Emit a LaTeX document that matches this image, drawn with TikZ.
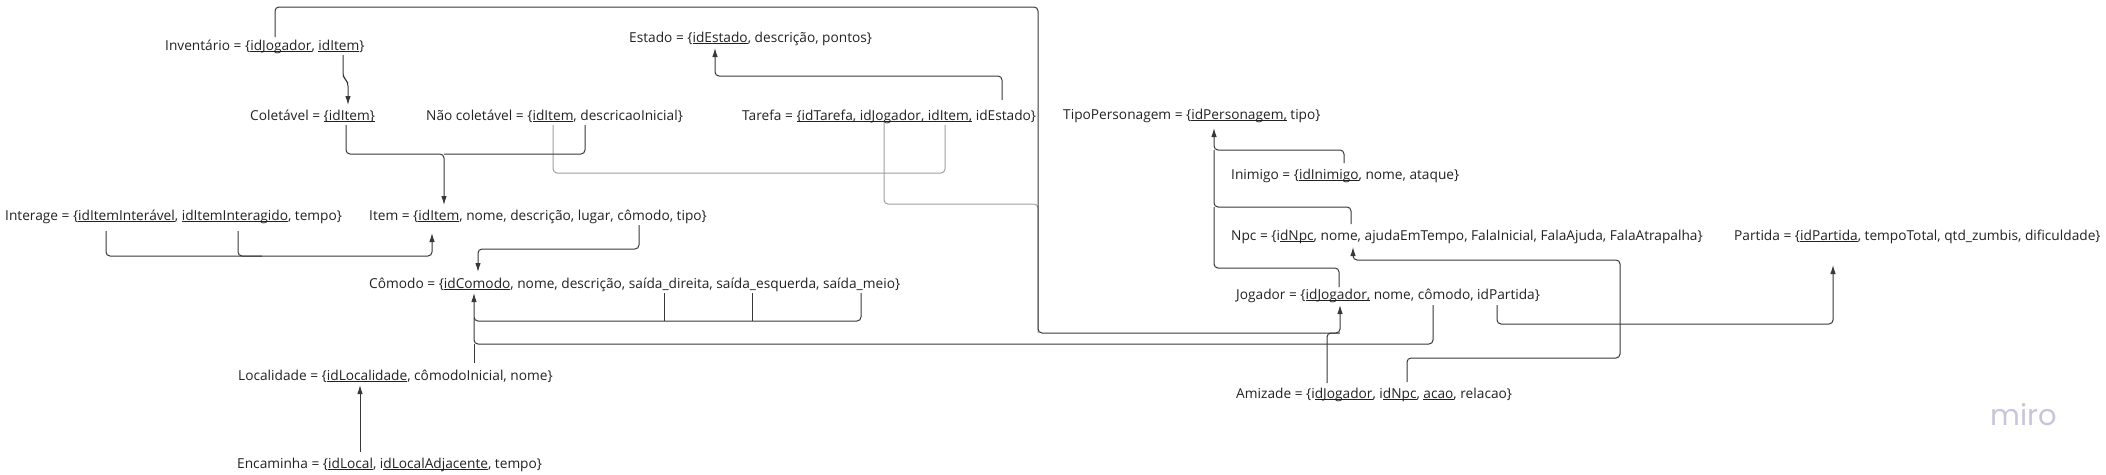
\documentclass[tikz,border=0pt]{standalone}
\usepackage{fontspec}
\setmainfont{Open Sans}
\newfontfamily\logofont{Poppins}
\usetikzlibrary{arrows.meta}
\definecolor{txt}{HTML}{222222}
\definecolor{ln}{HTML}{383838}
\definecolor{lg}{HTML}{A0A0A0}
\definecolor{logoc}{HTML}{C6C6D8}
\newcommand\undl[1]{\setbox0\hbox{#1}\rlap{\rule[-2pt]{\wd0}{0.9pt}}\box0\relax}
\tikzset{
  rel/.style={anchor=base west, inner sep=0pt, text=txt, font=\fontsize{13.7}{16}\selectfont},
  logo/.style={anchor=base west, inner sep=0pt, text=logoc, font=\logofont\fontsize{29}{30}\selectfont},
  conn/.style={draw=ln, line width=1pt, rounded corners=4pt},
  gconn/.style={conn, draw=lg},
  arr/.style={-{Latex[length=9pt,width=5.5pt]}}
}
\begin{document}
\begin{tikzpicture}[x=1pt,y=-1pt]
\useasboundingbox (0,0) rectangle (2106,474);
% relations
\node[rel] (inv) at (165,50) {Inventário = \{\undl{idJogador}, \undl{idItem}\}};
\node[rel] (est) at (629,42) {Estado = \{\undl{idEstado}, descrição, pontos\}};
\node[rel] (col) at (250,120) {Coletável = \undl{\{idItem\}}};
\node[rel] (ncol) at (426,120) {Não coletável = \{\undl{idItem}, descricaoInicial\}};
\node[rel] (tar) at (742,120) {Tarefa = \undl{\{idTarefa, idJogador, idItem,} idEstado\}};
\node[rel] (tipo) at (1063,119) {TipoPersonagem = \{\undl{idPersonagem,} tipo\}};
\node[rel] (ini) at (1231,179) {Inimigo = \{\undl{idInimigo}, nome, ataque\}};
\node[rel] (intg) at (5,220) {Interage = \{\undl{idItemInterável}, \undl{idItemInteragido}, tempo\}};
\node[rel] (item) at (369,220) {Item = \{\undl{idItem}, nome, descrição, lugar, cômodo, tipo\}};
\node[rel] (npc) at (1231,240) {Npc = \{i\undl{dNpc}, nome, ajudaEmTempo, FalaInicial, FalaAjuda, FalaAtrapalha\}};
\node[rel] (part) at (1734,240) {Partida = \{\undl{idPartida}, tempoTotal, qtd\_zumbis, dificuldade\}};
\node[rel] (com) at (369,288) {Cômodo = \{\undl{idComodo}, nome, descrição, saída\_direita, saída\_esquerda, saída\_meio\}};
\node[rel] (jog) at (1236,299) {Jogador = \{\undl{idJogador,} nome, cômodo, idPartida\}};
\node[rel] (loc) at (238,380) {Localidade = \{\undl{idLocalidade}, cômodoInicial, nome\}};
\node[rel] (ami) at (1236,398) {Amizade = \{i\undl{dJogador}, i\undl{dNpc}, \undl{acao}, relacao\}};
\node[rel] (enc) at (237,468) {Encaminha = \{\undl{idLocal}, i\undl{dLocalAdjacente}, tempo\}};
\node[logo] (miro) at (1990,425) {miro};
% attachment points
\coordinate (invJ) at (275,37);
\coordinate (invI) at (343,55);
\coordinate (colIn) at (348,105);
\coordinate (colOut) at (346,125);
\coordinate (ncolI) at (553,125);
\coordinate (ncolD) at (585,125);
\coordinate (itemIn) at (444,205);
\coordinate (itemIn2) at (432,233);
\coordinate (itemT) at (639,225);
\coordinate (estIn) at (715,48);
\coordinate (tarE) at (1002,100);
\coordinate (tarJ) at (884,122);
\coordinate (tarI) at (945,125);
\coordinate (intA) at (106,231);
\coordinate (intB) at (238,231);
\coordinate (comIn) at (478,272);
\coordinate (comK) at (474,293);
\coordinate (sd) at (664,293);
\coordinate (se) at (752,293);
\coordinate (sm) at (861,293);
\coordinate (locC) at (474,363);
\coordinate (locIn) at (360,385);
\coordinate (encL) at (360,452);
\coordinate (tipoIn) at (1214,128);
\coordinate (iniT) at (1344,163);
\coordinate (npcT) at (1351,224);
\coordinate (npcIn) at (1353,247);
\coordinate (jogT) at (1339,287);
\coordinate (jogIn) at (1340,305);
\coordinate (jogC) at (1433,305);
\coordinate (jogP) at (1497,305);
\coordinate (partIn) at (1833,265);
\coordinate (amiJ) at (1327,383);
\coordinate (amiN) at (1407,382);
% gray connectors
\draw[gconn] (ncolI) -- (553,173) -- (945,173) -- (tarI);
\draw[gconn] (tarJ) -- (884,204) -- (1038,204) -- (1038,333);
% dark connectors
\draw[conn,arr] (invJ) -- (275,7) -- (1038,7) -- (1038,333) -- (1340,333) -- (jogIn);
\draw[conn] (amiJ) -- (1327,333) -- (1340,333);
\draw[conn,arr] (tarE) -- (1002,76) -- (715,76) -- (estIn);
\draw[conn,arr] (invI) -- (343,77) -- (348,82) -- (colIn);
\draw[conn,arr] (colOut) -- (346,154) -- (444,154) -- (itemIn);
\draw[conn] (ncolD) -- (585,154) -- (444,154);
\draw[conn,arr] (intA) -- (106,256) -- (432,256) -- (itemIn2);
\draw[conn] (intB) -- (238,256) -- (262,256);
\draw[conn,arr] (itemT) -- (639,249) -- (478,249) -- (comIn);
\draw[conn,arr] (sm) -- (861,321) -- (474,321) -- (comK);
\draw[conn] (sd) -- (664,321);
\draw[conn] (se) -- (752,321);
\draw[conn] (jogC) -- (1433,344) -- (474,344) -- (474,318);
\draw[conn] (locC) -- (474,344);
\draw[conn,arr] (encL) -- (locIn);
\draw[conn,arr] (iniT) -- (1344,150) -- (1214,150) -- (tipoIn);
\draw[conn] (npcT) -- (1351,207) -- (1214,207) -- (1214,150);
\draw[conn] (jogT) -- (1339,268) -- (1214,268) -- (1214,207);
\draw[conn,arr] (amiN) -- (1407,358) -- (1620,358) -- (1620,260) -- (1353,260) -- (npcIn);
\draw[conn,arr] (jogP) -- (1497,324) -- (1833,324) -- (partIn);
\end{tikzpicture}
\end{document}
